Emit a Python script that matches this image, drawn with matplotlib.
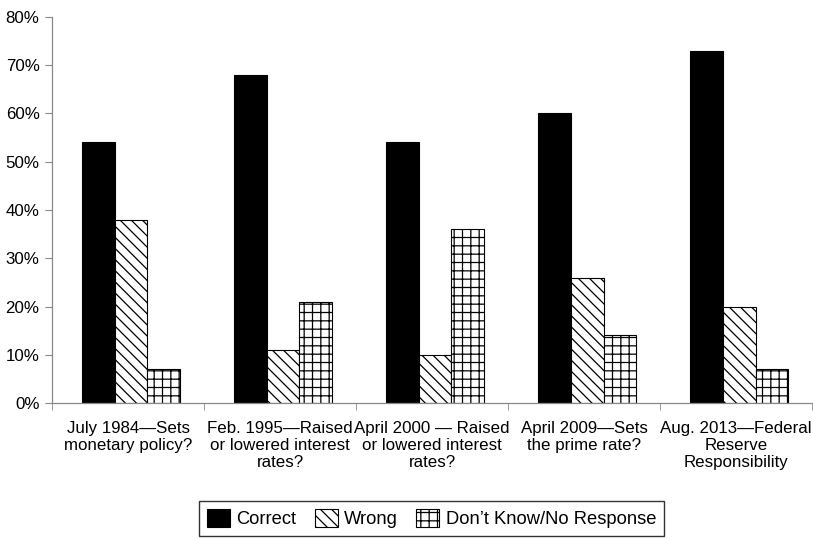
import matplotlib
matplotlib.use("Agg")
import matplotlib.pyplot as plt
import numpy as np

plt.rcParams['font.family'] = ['Liberation Sans', 'DejaVu Sans']
plt.rcParams['hatch.linewidth'] = 0.9

categories = [
    "July 1984\u2014Sets\nmonetary policy?",
    "Feb. 1995\u2014Raised\nor lowered interest\nrates?",
    "April 2000 \u2014 Raised\nor lowered interest\nrates?",
    "April 2009\u2014Sets\nthe prime rate?",
    "Aug. 2013\u2014Federal\nReserve\nResponsibility",
]
correct = [54, 68, 54, 60, 73]
wrong = [38, 11, 10, 26, 20]
dont_know = [7, 21, 36, 14, 7]
y_ticks = [0, 10, 20, 30, 40, 50, 60, 70, 80]

FS = 12.2
LEG_FS = 13.2

fig = plt.figure(figsize=(8.13, 5.39), dpi=100)
ax = fig.add_axes([0.064, 0.2523, 0.935, 0.7162])

x = np.arange(len(categories))
w = 0.215
shift = 0.02
ax.bar(x - w + shift, correct, w, color='black', edgecolor='black', linewidth=0.8, label='Correct')
ax.bar(x + shift, wrong, w, color='white', edgecolor='black', hatch='\\\\\\', linewidth=0.8,
       label='Wrong')
ax.bar(x + w + shift, dont_know, w, color='white', edgecolor='black', hatch='++', linewidth=0.8,
       label='Don\u2019t Know/No Response')

ax.set_xlim(-0.5, len(categories) - 0.5)
ax.set_ylim(0, 80)
ax.set_yticks(y_ticks)
ax.set_yticklabels([f"{v}%" for v in y_ticks], fontsize=FS)

ax.set_xticks(x)
ax.set_xticklabels(categories, fontsize=FS, linespacing=1.18)
ax.tick_params(axis='x', length=0, pad=13)
ax.set_xticks(np.arange(len(categories) + 1) - 0.5, minor=True)
ax.tick_params(axis='x', which='minor', length=5, color='#888888')
ax.tick_params(axis='y', length=5, color='#888888', pad=4)

for side in ['top', 'right']:
    ax.spines[side].set_visible(False)
for side in ['left', 'bottom']:
    ax.spines[side].set_color('#888888')
    ax.spines[side].set_linewidth(0.9)

leg = fig.legend(loc='upper center', bbox_to_anchor=(0.5308, 0.0705), ncol=3, fontsize=LEG_FS,
                 frameon=True, fancybox=False, edgecolor='black', handlelength=1.25,
                 handleheight=1.08, handletextpad=0.35, columnspacing=1.0,
                 borderpad=0.45, borderaxespad=0)
leg.get_frame().set_linewidth(1.0)

fig.savefig("out.png", dpi=100)
